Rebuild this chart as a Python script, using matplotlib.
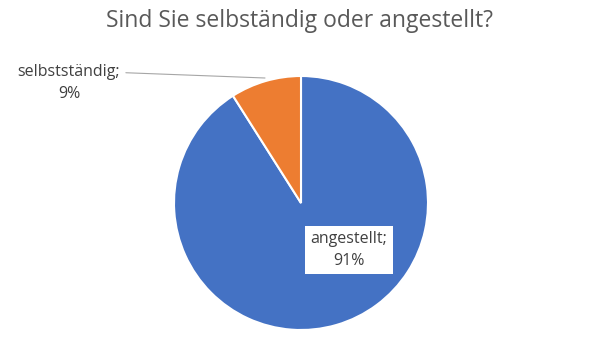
import matplotlib.pyplot as plt

labels = ['angestellt', 'selbstständig']
values = [91, 9]
colors = ['#4472C4', '#ED7D31']

fig = plt.figure(figsize=(6, 3.53), dpi=100)
ax = fig.add_axes([0, 0, 1, 1])

cx, cy, r = 301, 150, 127
wedges, _ = ax.pie(values, colors=colors, startangle=90, counterclock=False,
                   center=(cx, cy), radius=r, frame=True,
                   wedgeprops=dict(edgecolor='white', linewidth=1.5))
ax.set_xlim(0, 600)
ax.set_ylim(0, 353)
ax.set_aspect('equal')
ax.axis('off')

txt_color = '#404040'
font = 'Open Sans'

ax.text(cx + 48, cy - 47, f'{labels[0]};\n{values[0]}%', ha='center', va='center',
        fontsize=11.5, color=txt_color, family=font, linespacing=1.45,
        bbox=dict(facecolor='white', edgecolor='none', pad=4))

ax.annotate(f'{labels[1]};\n{values[1]}%', xy=(265, 275), xytext=(69, 270),
            ha='center', va='center', fontsize=11.5, color=txt_color, family=font,
            linespacing=1.45,
            arrowprops=dict(arrowstyle='-', color='#A6A6A6', lw=0.8,
                            shrinkA=2, shrinkB=0, relpos=(1.0, 0.78)))

fig.text(0.5, 0.94, 'Sind Sie selbständig oder angestellt?', ha='center', va='center',
         fontsize=16.5, color='#595959', family=font)

fig.savefig('out.png', dpi=100, facecolor='white')
